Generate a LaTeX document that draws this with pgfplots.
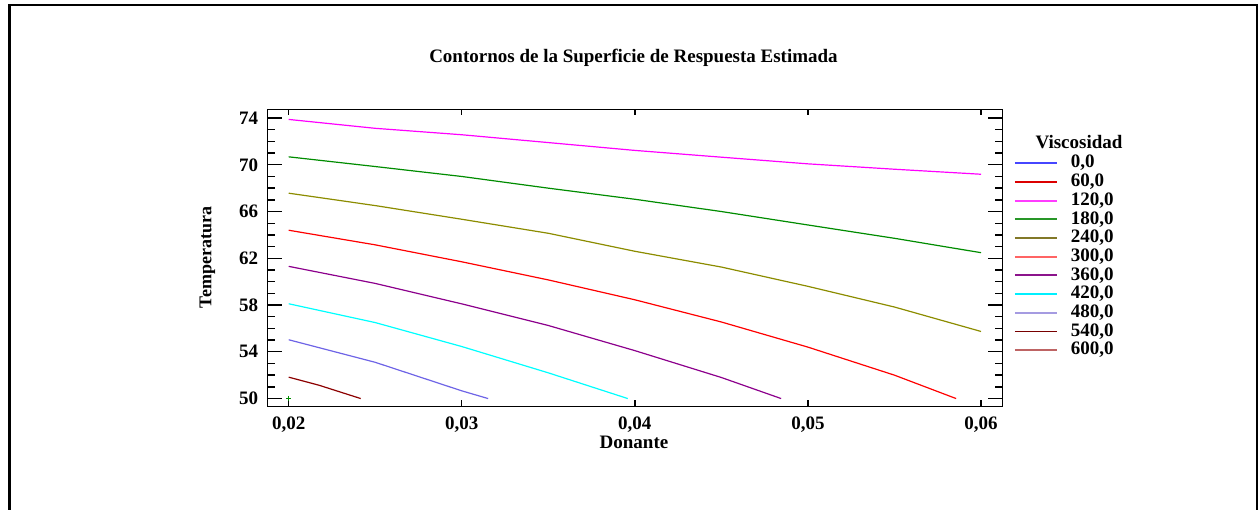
\documentclass[border=0pt]{standalone}
\usepackage{fontspec}
\setmainfont{Liberation Serif}
\usepackage{pgfplots}
\pgfplotsset{compat=1.18}
\definecolor{cMag}{RGB}{255,0,255}
\definecolor{cGrn}{RGB}{0,140,0}
\definecolor{cOlv}{RGB}{140,140,0}
\definecolor{cRed}{RGB}{255,0,0}
\definecolor{cPur}{RGB}{140,0,140}
\definecolor{cCyn}{RGB}{0,255,255}
\definecolor{cLav}{RGB}{110,100,230}
\definecolor{cDrd}{RGB}{140,0,0}
\definecolor{lA}{RGB}{70,70,255}
\definecolor{lB}{RGB}{220,0,0}
\definecolor{lC}{RGB}{255,60,255}
\definecolor{lD}{RGB}{40,150,40}
\definecolor{lE}{RGB}{130,120,40}
\definecolor{lF}{RGB}{255,100,100}
\definecolor{lG}{RGB}{140,20,140}
\definecolor{lH}{RGB}{0,240,255}
\definecolor{lI}{RGB}{165,155,225}
\definecolor{lJ}{RGB}{120,0,0}
\definecolor{lK}{RGB}{190,100,100}
\newcommand\ff{\fontsize{9.5}{11}\selectfont\bfseries}
\begin{document}
\begin{tikzpicture}
\path[use as bounding box] (0,0) rectangle (629.5pt,254.5pt);
\draw[line width=1.1pt] (4.75pt,-2pt) -- (4.75pt,252pt) -- (628.5pt,252pt) -- (628.5pt,-2pt);
\begin{axis}[
  at={(133.75pt,51.25pt)}, anchor=south west, scale only axis,
  width=367.4pt, height=148.5pt,
  xmin=0.018775, xmax=0.06123, ymin=49.32, ymax=74.73,
  axis line style={line width=0.8pt},
  tick align=inside,
  scaled x ticks=false,
  xtick={0.02,0.03,0.04,0.05,0.06},
  xticklabels={{0,02},{0,03},{0,04},{0,05},{0,06}},
  ytick=\empty,
  major tick length=3pt,
  tick style={line width=0.7pt, black},
  xticklabel style={font=\ff, inner sep=0pt, yshift=-5pt},
  clip=false,
  legend image code/.code={\draw[#1] (0pt,0pt) -- (21pt,0pt);},
  legend cell align=left,
  legend style={at={(1.0159,0.849)}, anchor=north west, draw=none, fill=none,
    inner sep=0pt, outer sep=0pt, row sep=0.55pt, column sep=6.5pt,
    font=\ff, nodes={inner sep=0pt, text height=6.8pt, text depth=2pt}},
]
\addlegendimage{lA, line width=1pt}\addlegendentry{0,0}
\addlegendimage{lB, line width=0.8pt}\addlegendentry{60,0}
\addlegendimage{lC, line width=1pt}\addlegendentry{120,0}
\addlegendimage{lD, line width=0.9pt}\addlegendentry{180,0}
\addlegendimage{lE, line width=0.9pt}\addlegendentry{240,0}
\addlegendimage{lF, line width=1pt}\addlegendentry{300,0}
\addlegendimage{lG, line width=0.9pt}\addlegendentry{360,0}
\addlegendimage{lH, line width=0.9pt}\addlegendentry{420,0}
\addlegendimage{lI, line width=1pt}\addlegendentry{480,0}
\addlegendimage{lJ, line width=0.9pt}\addlegendentry{540,0}
\addlegendimage{lK, line width=1pt}\addlegendentry{600,0}
\addplot[cMag, line width=0.6pt, forget plot] coordinates {(0.02,73.88)(0.025,73.12)(0.03,72.57)(0.035,71.9)(0.04,71.23)(0.045,70.65)(0.05,70.08)(0.055,69.62)(0.06,69.19)};
\addplot[cGrn, line width=0.6pt, forget plot] coordinates {(0.02,70.68)(0.025,69.85)(0.03,69.0)(0.035,68.0)(0.04,67.05)(0.045,66.0)(0.05,64.85)(0.055,63.71)(0.06,62.48)};
\addplot[cOlv, line width=0.6pt, forget plot] coordinates {(0.02,67.57)(0.025,66.51)(0.03,65.34)(0.035,64.14)(0.04,62.6)(0.045,61.25)(0.05,59.6)(0.055,57.83)(0.06,55.74)};
\addplot[cRed, line width=0.6pt, forget plot] coordinates {(0.02,64.4)(0.025,63.15)(0.03,61.7)(0.035,60.15)(0.04,58.45)(0.045,56.55)(0.05,54.4)(0.055,52.0)(0.05856,50.0)};
\addplot[cPur, line width=0.6pt, forget plot] coordinates {(0.02,61.31)(0.025,59.85)(0.03,58.1)(0.035,56.25)(0.04,54.1)(0.045,51.8)(0.04845,50.0)};
\addplot[cCyn, line width=0.6pt, forget plot] coordinates {(0.02,58.11)(0.025,56.5)(0.03,54.45)(0.035,52.2)(0.03959,50.0)};
\addplot[cLav, line width=0.6pt, forget plot] coordinates {(0.02,55.03)(0.025,53.1)(0.03,50.66)(0.03152,50.0)};
\addplot[cDrd, line width=0.6pt, forget plot] coordinates {(0.02,51.83)(0.02175,51.14)(0.02416,50.0)};
\addplot[only marks, mark=+, mark size=1.3pt, color=cGrn, line width=0.5pt, forget plot] coordinates {(0.02,50.0)};
\end{axis}
\begin{axis}[
  at={(133.75pt,51.25pt)}, anchor=south west, scale only axis,
  width=367.4pt, height=148.5pt,
  xmin=0.018775, xmax=0.06123, ymin=49.32, ymax=74.73,
  axis line style={line width=0.8pt},
  tick align=inside,
  xtick=\empty,
  ytick={50,54,...,74},
  minor y tick num=3,
  major tick length=7pt, minor tick length=3.5pt,
  tick style={line width=0.7pt, black},
  /pgf/number format/assume math mode=true,
  yticklabel style={font=\ff, inner sep=0pt, xshift=-4.5pt},
]
\end{axis}
\node[font=\ff] at (316.75pt,225.5pt) {Contornos de la Superficie de Respuesta Estimada};
\node[font=\ff] at (317pt,33.15pt) {Donante};
\node[font=\fontsize{9}{11}\selectfont\bfseries, rotate=90] at (103.75pt,125.75pt) {Temperatura};
\node[font=\ff] at (539.5pt,183.6pt) {Viscosidad};
\end{tikzpicture}
\end{document}
